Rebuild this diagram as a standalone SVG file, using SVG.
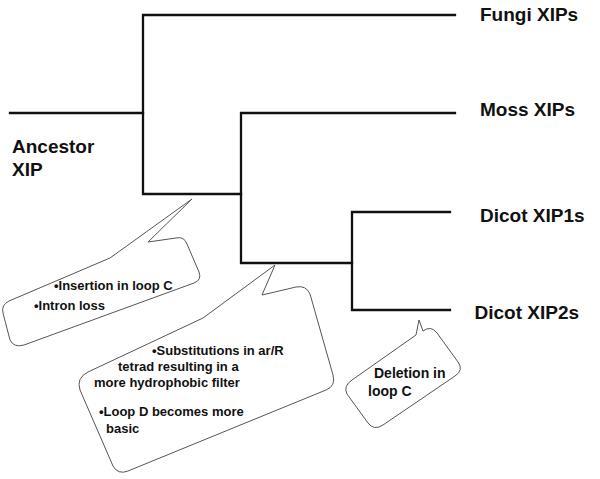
<svg xmlns="http://www.w3.org/2000/svg" width="600" height="479" viewBox="0 0 600 479">
<style>
.lbl{font-family:"Liberation Sans",Arial,sans-serif;font-weight:bold;font-size:19px;fill:#111}
.note{font-family:"Liberation Sans",Arial,sans-serif;font-weight:bold;font-size:13px;fill:#111}
.edge{fill:none;stroke:#111;stroke-width:2.3;stroke-linejoin:miter;stroke-linecap:square}
.bubble{fill:#fff;stroke:#555;stroke-width:1;stroke-linejoin:round}
</style>
<rect width="600" height="479" fill="#fff"/>
<g id="connectors">
<path class="edge" d="M10,113 H143"/>
<path class="edge" d="M455,15 H143 V194 H241"/>
<path class="edge" d="M455,113 H241 V263 H352"/>
<path class="edge" d="M450,212 H352 V310 H450"/>
</g>
<g id="ancestor"><text class="lbl" x="12" y="153">Ancestor</text><text class="lbl" x="12" y="176">XIP</text></g>
<g id="fungi"><text class="lbl" x="480" y="21">Fungi XIPs</text></g>
<g id="moss"><text class="lbl" x="480" y="116">Moss XIPs</text></g>
<g id="dicot1"><text class="lbl" x="480" y="222">Dicot XIP1s</text></g>
<g id="dicot2"><text class="lbl" x="474.5" y="319">Dicot XIP2s</text></g>
<g id="note1">
<path class="bubble" d="M192,199 L148,242 L176,238 Q184,236 187,244 L199,272 Q202,280 194,283 L24,345 Q14,348 10,340 L3,313 Q1,305 9,301 L110,258 Z"/>
<text class="note" x="54" y="290">•Insertion in loop C</text>
<text class="note" x="34" y="310">•Intron loss</text>
</g>
<g id="note2">
<path class="bubble" d="M275,265 L262,295 L296,287 Q306,285 310,294 L333,375 Q336,386 326,390 L128,471 Q118,475 113,466 L80,390 Q76,378 88,372 L203,318 Z"/>
<text class="note" x="152" y="355">•Substitutions in ar/R</text>
<text class="note" x="118" y="371">tetrad resulting in a</text>
<text class="note" x="94" y="387">more hydrophobic filter</text>
<text class="note" x="99" y="416">•Loop D becomes more</text>
<text class="note" x="106" y="433">basic</text>
</g>
<g id="note3">
<path class="bubble" d="M419,320 L416,335 L352,380 Q343,386 347,394 L368,423 Q374,431 383,425 L455,376 Q464,370 458,362 L437,333 Q431,325 423,331 Z"/>
<text class="note" style="font-size:14px" x="374" y="378">Deletion in</text>
<text class="note" style="font-size:14px" x="368" y="396">loop C</text>
</g>
</svg>
